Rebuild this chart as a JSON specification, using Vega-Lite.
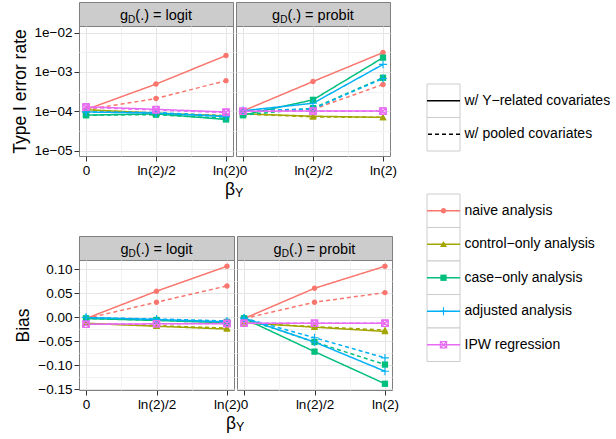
{
  "$schema": "https://vega.github.io/schema/vega-lite/v6.json",
  "padding": {"left": 10, "top": 1, "right": 0, "bottom": 0},
  "config": {
    "font": "Liberation Sans",
    "view": {"stroke": "#7F7F7F", "strokeWidth": 1},
    "axis": {
      "domain": false, "tickColor": "#333333", "tickSize": 5, "tickWidth": 1,
      "labelColor": "#000000", "labelFontSize": 13.5, "labelPadding": 2,
      "titleColor": "#000000", "titleFontSize": 17.5, "titleFontWeight": "normal",
      "gridWidth": 1
    }
  },
  "datasets": {
    "results": [
      {"m":"type1","l":"logit","a":"naive","c":"Y","b":0,"v":0.00011},
      {"m":"type1","l":"logit","a":"naive","c":"Y","b":0.346574,"v":0.00049},
      {"m":"type1","l":"logit","a":"naive","c":"Y","b":0.693147,"v":0.0026},
      {"m":"type1","l":"logit","a":"naive","c":"pooled","b":0,"v":0.00011},
      {"m":"type1","l":"logit","a":"naive","c":"pooled","b":0.346574,"v":0.00021},
      {"m":"type1","l":"logit","a":"naive","c":"pooled","b":0.693147,"v":0.0006},
      {"m":"type1","l":"logit","a":"control","c":"Y","b":0,"v":0.00011},
      {"m":"type1","l":"logit","a":"control","c":"Y","b":0.346574,"v":0.00009},
      {"m":"type1","l":"logit","a":"control","c":"Y","b":0.693147,"v":0.000076},
      {"m":"type1","l":"logit","a":"control","c":"pooled","b":0,"v":0.000108},
      {"m":"type1","l":"logit","a":"control","c":"pooled","b":0.346574,"v":0.000088},
      {"m":"type1","l":"logit","a":"control","c":"pooled","b":0.693147,"v":0.000078},
      {"m":"type1","l":"logit","a":"case","c":"Y","b":0,"v":0.00008},
      {"m":"type1","l":"logit","a":"case","c":"Y","b":0.346574,"v":0.000086},
      {"m":"type1","l":"logit","a":"case","c":"Y","b":0.693147,"v":0.000062},
      {"m":"type1","l":"logit","a":"case","c":"pooled","b":0,"v":0.00008},
      {"m":"type1","l":"logit","a":"case","c":"pooled","b":0.346574,"v":0.000082},
      {"m":"type1","l":"logit","a":"case","c":"pooled","b":0.693147,"v":0.000066},
      {"m":"type1","l":"logit","a":"adjusted","c":"Y","b":0,"v":0.000096},
      {"m":"type1","l":"logit","a":"adjusted","c":"Y","b":0.346574,"v":0.00009},
      {"m":"type1","l":"logit","a":"adjusted","c":"Y","b":0.693147,"v":0.000073},
      {"m":"type1","l":"logit","a":"adjusted","c":"pooled","b":0,"v":0.000096},
      {"m":"type1","l":"logit","a":"adjusted","c":"pooled","b":0.346574,"v":0.000093},
      {"m":"type1","l":"logit","a":"adjusted","c":"pooled","b":0.693147,"v":0.000076},
      {"m":"type1","l":"logit","a":"IPW","c":"Y","b":0,"v":0.00013},
      {"m":"type1","l":"logit","a":"IPW","c":"Y","b":0.346574,"v":0.000112},
      {"m":"type1","l":"logit","a":"IPW","c":"Y","b":0.693147,"v":0.000096},
      {"m":"type1","l":"logit","a":"IPW","c":"pooled","b":0,"v":0.000126},
      {"m":"type1","l":"logit","a":"IPW","c":"pooled","b":0.346574,"v":0.000108},
      {"m":"type1","l":"logit","a":"IPW","c":"pooled","b":0.693147,"v":0.000093},
      {"m":"type1","l":"probit","a":"naive","c":"Y","b":0,"v":0.000102},
      {"m":"type1","l":"probit","a":"naive","c":"Y","b":0.346574,"v":0.00057},
      {"m":"type1","l":"probit","a":"naive","c":"Y","b":0.693147,"v":0.0031},
      {"m":"type1","l":"probit","a":"naive","c":"pooled","b":0,"v":0.000102},
      {"m":"type1","l":"probit","a":"naive","c":"pooled","b":0.346574,"v":0.000112},
      {"m":"type1","l":"probit","a":"naive","c":"pooled","b":0.693147,"v":0.00048},
      {"m":"type1","l":"probit","a":"control","c":"Y","b":0,"v":0.000086},
      {"m":"type1","l":"probit","a":"control","c":"Y","b":0.346574,"v":0.000075},
      {"m":"type1","l":"probit","a":"control","c":"Y","b":0.693147,"v":0.00007},
      {"m":"type1","l":"probit","a":"control","c":"pooled","b":0,"v":0.000086},
      {"m":"type1","l":"probit","a":"control","c":"pooled","b":0.346574,"v":0.000072},
      {"m":"type1","l":"probit","a":"control","c":"pooled","b":0.693147,"v":0.00007},
      {"m":"type1","l":"probit","a":"case","c":"Y","b":0,"v":0.00008},
      {"m":"type1","l":"probit","a":"case","c":"Y","b":0.346574,"v":0.000195},
      {"m":"type1","l":"probit","a":"case","c":"Y","b":0.693147,"v":0.0023},
      {"m":"type1","l":"probit","a":"case","c":"pooled","b":0,"v":0.00008},
      {"m":"type1","l":"probit","a":"case","c":"pooled","b":0.346574,"v":0.00012},
      {"m":"type1","l":"probit","a":"case","c":"pooled","b":0.693147,"v":0.00071},
      {"m":"type1","l":"probit","a":"adjusted","c":"Y","b":0,"v":0.000103},
      {"m":"type1","l":"probit","a":"adjusted","c":"Y","b":0.346574,"v":0.00016},
      {"m":"type1","l":"probit","a":"adjusted","c":"Y","b":0.693147,"v":0.00155},
      {"m":"type1","l":"probit","a":"adjusted","c":"pooled","b":0,"v":0.000103},
      {"m":"type1","l":"probit","a":"adjusted","c":"pooled","b":0.346574,"v":0.000115},
      {"m":"type1","l":"probit","a":"adjusted","c":"pooled","b":0.693147,"v":0.00068},
      {"m":"type1","l":"probit","a":"IPW","c":"Y","b":0,"v":0.0001},
      {"m":"type1","l":"probit","a":"IPW","c":"Y","b":0.346574,"v":0.000102},
      {"m":"type1","l":"probit","a":"IPW","c":"Y","b":0.693147,"v":0.000102},
      {"m":"type1","l":"probit","a":"IPW","c":"pooled","b":0,"v":0.0001},
      {"m":"type1","l":"probit","a":"IPW","c":"pooled","b":0.346574,"v":0.0001},
      {"m":"type1","l":"probit","a":"IPW","c":"pooled","b":0.693147,"v":0.0001},
      {"m":"bias","l":"logit","a":"naive","c":"Y","b":0,"v":-0.003},
      {"m":"bias","l":"logit","a":"naive","c":"Y","b":0.346574,"v":0.054},
      {"m":"bias","l":"logit","a":"naive","c":"Y","b":0.693147,"v":0.106},
      {"m":"bias","l":"logit","a":"naive","c":"pooled","b":0,"v":-0.003},
      {"m":"bias","l":"logit","a":"naive","c":"pooled","b":0.346574,"v":0.031},
      {"m":"bias","l":"logit","a":"naive","c":"pooled","b":0.693147,"v":0.065},
      {"m":"bias","l":"logit","a":"control","c":"Y","b":0,"v":-0.013},
      {"m":"bias","l":"logit","a":"control","c":"Y","b":0.346574,"v":-0.019},
      {"m":"bias","l":"logit","a":"control","c":"Y","b":0.693147,"v":-0.025},
      {"m":"bias","l":"logit","a":"control","c":"pooled","b":0,"v":-0.013},
      {"m":"bias","l":"logit","a":"control","c":"pooled","b":0.346574,"v":-0.018},
      {"m":"bias","l":"logit","a":"control","c":"pooled","b":0.693147,"v":-0.023},
      {"m":"bias","l":"logit","a":"case","c":"Y","b":0,"v":-0.003},
      {"m":"bias","l":"logit","a":"case","c":"Y","b":0.346574,"v":-0.007},
      {"m":"bias","l":"logit","a":"case","c":"Y","b":0.693147,"v":-0.012},
      {"m":"bias","l":"logit","a":"case","c":"pooled","b":0,"v":-0.003},
      {"m":"bias","l":"logit","a":"case","c":"pooled","b":0.346574,"v":-0.006},
      {"m":"bias","l":"logit","a":"case","c":"pooled","b":0.693147,"v":-0.01},
      {"m":"bias","l":"logit","a":"adjusted","c":"Y","b":0,"v":-0.001},
      {"m":"bias","l":"logit","a":"adjusted","c":"Y","b":0.346574,"v":-0.005},
      {"m":"bias","l":"logit","a":"adjusted","c":"Y","b":0.693147,"v":-0.01},
      {"m":"bias","l":"logit","a":"adjusted","c":"pooled","b":0,"v":-0.001},
      {"m":"bias","l":"logit","a":"adjusted","c":"pooled","b":0.346574,"v":-0.004},
      {"m":"bias","l":"logit","a":"adjusted","c":"pooled","b":0.693147,"v":-0.008},
      {"m":"bias","l":"logit","a":"IPW","c":"Y","b":0,"v":-0.015},
      {"m":"bias","l":"logit","a":"IPW","c":"Y","b":0.346574,"v":-0.014},
      {"m":"bias","l":"logit","a":"IPW","c":"Y","b":0.693147,"v":-0.014},
      {"m":"bias","l":"logit","a":"IPW","c":"pooled","b":0,"v":-0.015},
      {"m":"bias","l":"logit","a":"IPW","c":"pooled","b":0.346574,"v":-0.014},
      {"m":"bias","l":"logit","a":"IPW","c":"pooled","b":0.693147,"v":-0.013},
      {"m":"bias","l":"probit","a":"naive","c":"Y","b":0,"v":-0.003},
      {"m":"bias","l":"probit","a":"naive","c":"Y","b":0.346574,"v":0.06},
      {"m":"bias","l":"probit","a":"naive","c":"Y","b":0.693147,"v":0.106},
      {"m":"bias","l":"probit","a":"naive","c":"pooled","b":0,"v":-0.003},
      {"m":"bias","l":"probit","a":"naive","c":"pooled","b":0.346574,"v":0.031},
      {"m":"bias","l":"probit","a":"naive","c":"pooled","b":0.693147,"v":0.051},
      {"m":"bias","l":"probit","a":"control","c":"Y","b":0,"v":-0.012},
      {"m":"bias","l":"probit","a":"control","c":"Y","b":0.346574,"v":-0.021},
      {"m":"bias","l":"probit","a":"control","c":"Y","b":0.693147,"v":-0.03},
      {"m":"bias","l":"probit","a":"control","c":"pooled","b":0,"v":-0.012},
      {"m":"bias","l":"probit","a":"control","c":"pooled","b":0.346574,"v":-0.02},
      {"m":"bias","l":"probit","a":"control","c":"pooled","b":0.693147,"v":-0.027},
      {"m":"bias","l":"probit","a":"case","c":"Y","b":0,"v":-0.003},
      {"m":"bias","l":"probit","a":"case","c":"Y","b":0.346574,"v":-0.072},
      {"m":"bias","l":"probit","a":"case","c":"Y","b":0.693147,"v":-0.139},
      {"m":"bias","l":"probit","a":"case","c":"pooled","b":0,"v":-0.003},
      {"m":"bias","l":"probit","a":"case","c":"pooled","b":0.346574,"v":-0.052},
      {"m":"bias","l":"probit","a":"case","c":"pooled","b":0.693147,"v":-0.099},
      {"m":"bias","l":"probit","a":"adjusted","c":"Y","b":0,"v":-0.002},
      {"m":"bias","l":"probit","a":"adjusted","c":"Y","b":0.346574,"v":-0.052},
      {"m":"bias","l":"probit","a":"adjusted","c":"Y","b":0.693147,"v":-0.113},
      {"m":"bias","l":"probit","a":"adjusted","c":"pooled","b":0,"v":-0.002},
      {"m":"bias","l":"probit","a":"adjusted","c":"pooled","b":0.346574,"v":-0.043},
      {"m":"bias","l":"probit","a":"adjusted","c":"pooled","b":0.693147,"v":-0.085},
      {"m":"bias","l":"probit","a":"IPW","c":"Y","b":0,"v":-0.013},
      {"m":"bias","l":"probit","a":"IPW","c":"Y","b":0.346574,"v":-0.013},
      {"m":"bias","l":"probit","a":"IPW","c":"Y","b":0.693147,"v":-0.013},
      {"m":"bias","l":"probit","a":"IPW","c":"pooled","b":0,"v":-0.013},
      {"m":"bias","l":"probit","a":"IPW","c":"pooled","b":0.346574,"v":-0.013},
      {"m":"bias","l":"probit","a":"IPW","c":"pooled","b":0.693147,"v":-0.013}
    ]
  },
  "hconcat": [
    {
      "spacing": 36,
      "vconcat": [
        {
          "columns": 2, "spacing": {"row": 0, "column": 3}, "align": "each", "bounds": "flush",
          "concat": [
            {
              "width": 154, "height": 24,
              "view": {"fill": "#CCCCCC", "stroke": "#7F7F7F"},
              "data": {"values": [{"rest": "(.) = logit"}]},
              "layer": [
                {"mark": {"type": "text", "text": "g", "align": "left", "baseline": "alphabetic", "fontSize": 14.5, "dx": -36, "dy": 6, "color": "#000000"}, "encoding": {}},
                {"mark": {"type": "text", "text": "D", "align": "left", "baseline": "alphabetic", "fontSize": 10, "dx": -27.9, "dy": 8.5, "color": "#000000"}, "encoding": {}},
                {"mark": {"type": "text", "align": "left", "baseline": "alphabetic", "fontSize": 14.5, "dx": -20.7, "dy": 6, "color": "#000000"}, "encoding": {"text": {"field": "rest"}}}
              ]
            },
            {
              "width": 154, "height": 24,
              "view": {"fill": "#CCCCCC", "stroke": "#7F7F7F"},
              "data": {"values": [{"rest": "(.) = probit"}]},
              "layer": [
                {"mark": {"type": "text", "text": "g", "align": "left", "baseline": "alphabetic", "fontSize": 14.5, "dx": -40.9, "dy": 6, "color": "#000000"}, "encoding": {}},
                {"mark": {"type": "text", "text": "D", "align": "left", "baseline": "alphabetic", "fontSize": 10, "dx": -32.8, "dy": 8.5, "color": "#000000"}, "encoding": {}},
                {"mark": {"type": "text", "align": "left", "baseline": "alphabetic", "fontSize": 14.5, "dx": -25.6, "dy": 6, "color": "#000000"}, "encoding": {"text": {"field": "rest"}}}
              ]
            },
            {
              "width": 154, "height": 130,
              "data": {"name": "results"},
              "transform": [{"filter": "datum.m === 'type1' && datum.l === 'logit'"}],
              "encoding": {
                "x": {"field": "b", "type": "quantitative", "scale": {"domain": [-0.034657, 0.727804], "nice": false, "zero": false},
                  "axis": {"values": [0, 0.173287, 0.346574, 0.51986, 0.693147], "labelExpr": "datum.value === 0 ? '0' : datum.value === 0.346574 ? 'ln(2)/2' : datum.value === 0.693147 ? 'ln(2)' : ''", "labelFlush": false, "labelOverlap": false,
                    "tickOpacity": {"condition": {"test": "datum.value === 0.173287 || datum.value === 0.51986", "value": 0}, "value": 1},
                    "gridColor": {"condition": {"test": "datum.value === 0.173287 || datum.value === 0.51986", "value": "#F2F2F2"}, "value": "#E5E5E5"},
                    "title": "β", "titleX": 155.5, "titleY": 38, "titleAlign": "right", "titleBaseline": "alphabetic"}},
                "y": {"field": "v", "type": "quantitative", "scale": {"type": "log", "domain": [0.000007328, 0.014622], "nice": false},
                  "axis": {"values": [0.00001, 0.0000316228, 0.0001, 0.000316228, 0.001, 0.00316228, 0.01], "labelExpr": "datum.value === 0.01 ? '1e−02' : datum.value === 0.001 ? '1e−03' : datum.value === 0.0001 ? '1e−04' : datum.value === 0.00001 ? '1e−05' : ''", "labelOverlap": false,
                    "tickOpacity": {"condition": {"test": "datum.value === 0.0000316228 || datum.value === 0.000316228 || datum.value === 0.00316228", "value": 0}, "value": 1},
                    "gridColor": {"condition": {"test": "datum.value === 0.0000316228 || datum.value === 0.000316228 || datum.value === 0.00316228", "value": "#F2F2F2"}, "value": "#E5E5E5"},
                    "title": "Type I error rate", "titlePadding": 5}},
                "color": {"field": "a", "type": "nominal", "legend": null, "scale": {"domain": ["naive", "control", "case", "adjusted", "IPW"], "range": ["#F8766D", "#A3A500", "#00BF7D", "#00B0F6", "#E76BF3"]}}
              },
              "layer": [
                {"mark": {"type": "line", "strokeWidth": 1.5}, "encoding": {"strokeDash": {"field": "c", "type": "nominal", "legend": null, "scale": {"domain": ["Y", "pooled"], "range": [[1, 0], [4, 3]]}}}},
                {"transform": [{"filter": "datum.a === 'naive' || datum.a === 'control' || datum.a === 'case'"}], "mark": {"type": "point", "filled": true, "size": 30, "opacity": 1},
                  "encoding": {"shape": {"field": "a", "type": "nominal", "legend": null, "scale": {"domain": ["naive", "control", "case", "adjusted", "IPW"], "range": ["M-1,0A1,1,0,1,1,1,0A1,1,0,1,1,-1,0Z", "M0,-1.2L1.3,1L-1.3,1Z", "M-1.15,-1.15H1.15V1.15H-1.15Z", "M-1.45,0H1.45M0,-1.45V1.45", "M-1.15,-1.15H1.15V1.15H-1.15ZM-1.15,-1.15L1.15,1.15M-1.15,1.15L1.15,-1.15"]}}}},
                {"transform": [{"filter": "datum.a === 'adjusted' || datum.a === 'IPW'"}], "mark": {"type": "point", "filled": false, "size": 30, "opacity": 1, "strokeWidth": 1.1},
                  "encoding": {"shape": {"field": "a", "type": "nominal", "legend": null, "scale": {"domain": ["naive", "control", "case", "adjusted", "IPW"], "range": ["M-1,0A1,1,0,1,1,1,0A1,1,0,1,1,-1,0Z", "M0,-1.2L1.3,1L-1.3,1Z", "M-1.15,-1.15H1.15V1.15H-1.15Z", "M-1.45,0H1.45M0,-1.45V1.45", "M-1.15,-1.15H1.15V1.15H-1.15ZM-1.15,-1.15L1.15,1.15M-1.15,1.15L1.15,-1.15"]}}}}
              ]
            },
            {
              "width": 154, "height": 130,
              "data": {"name": "results"},
              "transform": [{"filter": "datum.m === 'type1' && datum.l === 'probit'"}],
              "encoding": {
                "x": {"field": "b", "type": "quantitative", "scale": {"domain": [-0.034657, 0.727804], "nice": false, "zero": false},
                  "axis": {"values": [0, 0.173287, 0.346574, 0.51986, 0.693147], "labelExpr": "datum.value === 0 ? '0' : datum.value === 0.346574 ? 'ln(2)/2' : datum.value === 0.693147 ? 'ln(2)' : ''", "labelFlush": false, "labelOverlap": false,
                    "tickOpacity": {"condition": {"test": "datum.value === 0.173287 || datum.value === 0.51986", "value": 0}, "value": 1},
                    "gridColor": {"condition": {"test": "datum.value === 0.173287 || datum.value === 0.51986", "value": "#F2F2F2"}, "value": "#E5E5E5"},
                    "title": "Y", "titleFontSize": 12.5, "titleX": -1.5, "titleY": 40, "titleAlign": "left", "titleBaseline": "alphabetic"}},
                "y": {"field": "v", "type": "quantitative", "scale": {"type": "log", "domain": [0.000007328, 0.014622], "nice": false},
                  "axis": {"values": [0.00001, 0.0000316228, 0.0001, 0.000316228, 0.001, 0.00316228, 0.01], "labels": false, "ticks": false, "title": null,
                    "gridColor": {"condition": {"test": "datum.value === 0.0000316228 || datum.value === 0.000316228 || datum.value === 0.00316228", "value": "#F2F2F2"}, "value": "#E5E5E5"}}},
                "color": {"field": "a", "type": "nominal", "legend": null, "scale": {"domain": ["naive", "control", "case", "adjusted", "IPW"], "range": ["#F8766D", "#A3A500", "#00BF7D", "#00B0F6", "#E76BF3"]}}
              },
              "layer": [
                {"mark": {"type": "line", "strokeWidth": 1.5}, "encoding": {"strokeDash": {"field": "c", "type": "nominal", "legend": null, "scale": {"domain": ["Y", "pooled"], "range": [[1, 0], [4, 3]]}}}},
                {"transform": [{"filter": "datum.a === 'naive' || datum.a === 'control' || datum.a === 'case'"}], "mark": {"type": "point", "filled": true, "size": 30, "opacity": 1},
                  "encoding": {"shape": {"field": "a", "type": "nominal", "legend": null, "scale": {"domain": ["naive", "control", "case", "adjusted", "IPW"], "range": ["M-1,0A1,1,0,1,1,1,0A1,1,0,1,1,-1,0Z", "M0,-1.2L1.3,1L-1.3,1Z", "M-1.15,-1.15H1.15V1.15H-1.15Z", "M-1.45,0H1.45M0,-1.45V1.45", "M-1.15,-1.15H1.15V1.15H-1.15ZM-1.15,-1.15L1.15,1.15M-1.15,1.15L1.15,-1.15"]}}}},
                {"transform": [{"filter": "datum.a === 'adjusted' || datum.a === 'IPW'"}], "mark": {"type": "point", "filled": false, "size": 30, "opacity": 1, "strokeWidth": 1.1},
                  "encoding": {"shape": {"field": "a", "type": "nominal", "legend": null, "scale": {"domain": ["naive", "control", "case", "adjusted", "IPW"], "range": ["M-1,0A1,1,0,1,1,1,0A1,1,0,1,1,-1,0Z", "M0,-1.2L1.3,1L-1.3,1Z", "M-1.15,-1.15H1.15V1.15H-1.15Z", "M-1.45,0H1.45M0,-1.45V1.45", "M-1.15,-1.15H1.15V1.15H-1.15ZM-1.15,-1.15L1.15,1.15M-1.15,1.15L1.15,-1.15"]}}}}
              ]
            }
          ]
        },
        {
          "columns": 2, "spacing": {"row": 0, "column": 3}, "align": "each", "bounds": "flush",
          "concat": [
            {
              "width": 155, "height": 24,
              "view": {"fill": "#CCCCCC", "stroke": "#7F7F7F"},
              "data": {"values": [{"rest": "(.) = logit"}]},
              "layer": [
                {"mark": {"type": "text", "text": "g", "align": "left", "baseline": "alphabetic", "fontSize": 14.5, "dx": -36, "dy": 6, "color": "#000000"}, "encoding": {}},
                {"mark": {"type": "text", "text": "D", "align": "left", "baseline": "alphabetic", "fontSize": 10, "dx": -27.9, "dy": 8.5, "color": "#000000"}, "encoding": {}},
                {"mark": {"type": "text", "align": "left", "baseline": "alphabetic", "fontSize": 14.5, "dx": -20.7, "dy": 6, "color": "#000000"}, "encoding": {"text": {"field": "rest"}}}
              ]
            },
            {
              "width": 155, "height": 24,
              "view": {"fill": "#CCCCCC", "stroke": "#7F7F7F"},
              "data": {"values": [{"rest": "(.) = probit"}]},
              "layer": [
                {"mark": {"type": "text", "text": "g", "align": "left", "baseline": "alphabetic", "fontSize": 14.5, "dx": -40.9, "dy": 6, "color": "#000000"}, "encoding": {}},
                {"mark": {"type": "text", "text": "D", "align": "left", "baseline": "alphabetic", "fontSize": 10, "dx": -32.8, "dy": 8.5, "color": "#000000"}, "encoding": {}},
                {"mark": {"type": "text", "align": "left", "baseline": "alphabetic", "fontSize": 14.5, "dx": -25.6, "dy": 6, "color": "#000000"}, "encoding": {"text": {"field": "rest"}}}
              ]
            },
            {
              "width": 155, "height": 130,
              "data": {"name": "results"},
              "transform": [{"filter": "datum.m === 'bias' && datum.l === 'logit'"}],
              "encoding": {
                "x": {"field": "b", "type": "quantitative", "scale": {"domain": [-0.034657, 0.727804], "nice": false, "zero": false},
                  "axis": {"values": [0, 0.173287, 0.346574, 0.51986, 0.693147], "labelExpr": "datum.value === 0 ? '0' : datum.value === 0.346574 ? 'ln(2)/2' : datum.value === 0.693147 ? 'ln(2)' : ''", "labelFlush": false, "labelOverlap": false,
                    "tickOpacity": {"condition": {"test": "datum.value === 0.173287 || datum.value === 0.51986", "value": 0}, "value": 1},
                    "gridColor": {"condition": {"test": "datum.value === 0.173287 || datum.value === 0.51986", "value": "#F2F2F2"}, "value": "#E5E5E5"},
                    "title": "β", "titleX": 156.5, "titleY": 38, "titleAlign": "right", "titleBaseline": "alphabetic"}},
                "y": {"field": "v", "type": "quantitative", "scale": {"domain": [-0.152, 0.119], "nice": false, "zero": false},
                  "axis": {"values": [-0.15, -0.125, -0.1, -0.075, -0.05, -0.025, 0, 0.025, 0.05, 0.075, 0.1], "format": ".2f", "labelExpr": "abs(round(datum.value * 20) - datum.value * 20) < 0.001 ? datum.label : ''", "labelOverlap": false,
                    "tickOpacity": {"condition": {"test": "abs(round(datum.value * 20) - datum.value * 20) > 0.1", "value": 0}, "value": 1},
                    "gridColor": {"condition": {"test": "abs(round(datum.value * 20) - datum.value * 20) > 0.1", "value": "#F2F2F2"}, "value": "#E5E5E5"},
                    "title": "Bias", "titlePadding": 5}},
                "color": {"field": "a", "type": "nominal", "legend": null, "scale": {"domain": ["naive", "control", "case", "adjusted", "IPW"], "range": ["#F8766D", "#A3A500", "#00BF7D", "#00B0F6", "#E76BF3"]}}
              },
              "layer": [
                {"mark": {"type": "line", "strokeWidth": 1.5}, "encoding": {"strokeDash": {"field": "c", "type": "nominal", "legend": null, "scale": {"domain": ["Y", "pooled"], "range": [[1, 0], [4, 3]]}}}},
                {"transform": [{"filter": "datum.a === 'naive' || datum.a === 'control' || datum.a === 'case'"}], "mark": {"type": "point", "filled": true, "size": 30, "opacity": 1},
                  "encoding": {"shape": {"field": "a", "type": "nominal", "legend": null, "scale": {"domain": ["naive", "control", "case", "adjusted", "IPW"], "range": ["M-1,0A1,1,0,1,1,1,0A1,1,0,1,1,-1,0Z", "M0,-1.2L1.3,1L-1.3,1Z", "M-1.15,-1.15H1.15V1.15H-1.15Z", "M-1.45,0H1.45M0,-1.45V1.45", "M-1.15,-1.15H1.15V1.15H-1.15ZM-1.15,-1.15L1.15,1.15M-1.15,1.15L1.15,-1.15"]}}}},
                {"transform": [{"filter": "datum.a === 'adjusted' || datum.a === 'IPW'"}], "mark": {"type": "point", "filled": false, "size": 30, "opacity": 1, "strokeWidth": 1.1},
                  "encoding": {"shape": {"field": "a", "type": "nominal", "legend": null, "scale": {"domain": ["naive", "control", "case", "adjusted", "IPW"], "range": ["M-1,0A1,1,0,1,1,1,0A1,1,0,1,1,-1,0Z", "M0,-1.2L1.3,1L-1.3,1Z", "M-1.15,-1.15H1.15V1.15H-1.15Z", "M-1.45,0H1.45M0,-1.45V1.45", "M-1.15,-1.15H1.15V1.15H-1.15ZM-1.15,-1.15L1.15,1.15M-1.15,1.15L1.15,-1.15"]}}}}
              ]
            },
            {
              "width": 155, "height": 130,
              "data": {"name": "results"},
              "transform": [{"filter": "datum.m === 'bias' && datum.l === 'probit'"}],
              "encoding": {
                "x": {"field": "b", "type": "quantitative", "scale": {"domain": [-0.034657, 0.727804], "nice": false, "zero": false},
                  "axis": {"values": [0, 0.173287, 0.346574, 0.51986, 0.693147], "labelExpr": "datum.value === 0 ? '0' : datum.value === 0.346574 ? 'ln(2)/2' : datum.value === 0.693147 ? 'ln(2)' : ''", "labelFlush": false, "labelOverlap": false,
                    "tickOpacity": {"condition": {"test": "datum.value === 0.173287 || datum.value === 0.51986", "value": 0}, "value": 1},
                    "gridColor": {"condition": {"test": "datum.value === 0.173287 || datum.value === 0.51986", "value": "#F2F2F2"}, "value": "#E5E5E5"},
                    "title": "Y", "titleFontSize": 12.5, "titleX": -1.5, "titleY": 40, "titleAlign": "left", "titleBaseline": "alphabetic"}},
                "y": {"field": "v", "type": "quantitative", "scale": {"domain": [-0.152, 0.119], "nice": false, "zero": false},
                  "axis": {"values": [-0.15, -0.125, -0.1, -0.075, -0.05, -0.025, 0, 0.025, 0.05, 0.075, 0.1], "labels": false, "ticks": false, "title": null,
                    "gridColor": {"condition": {"test": "abs(round(datum.value * 20) - datum.value * 20) > 0.1", "value": "#F2F2F2"}, "value": "#E5E5E5"}}},
                "color": {"field": "a", "type": "nominal", "legend": null, "scale": {"domain": ["naive", "control", "case", "adjusted", "IPW"], "range": ["#F8766D", "#A3A500", "#00BF7D", "#00B0F6", "#E76BF3"]}}
              },
              "layer": [
                {"mark": {"type": "line", "strokeWidth": 1.5}, "encoding": {"strokeDash": {"field": "c", "type": "nominal", "legend": null, "scale": {"domain": ["Y", "pooled"], "range": [[1, 0], [4, 3]]}}}},
                {"transform": [{"filter": "datum.a === 'naive' || datum.a === 'control' || datum.a === 'case'"}], "mark": {"type": "point", "filled": true, "size": 30, "opacity": 1},
                  "encoding": {"shape": {"field": "a", "type": "nominal", "legend": null, "scale": {"domain": ["naive", "control", "case", "adjusted", "IPW"], "range": ["M-1,0A1,1,0,1,1,1,0A1,1,0,1,1,-1,0Z", "M0,-1.2L1.3,1L-1.3,1Z", "M-1.15,-1.15H1.15V1.15H-1.15Z", "M-1.45,0H1.45M0,-1.45V1.45", "M-1.15,-1.15H1.15V1.15H-1.15ZM-1.15,-1.15L1.15,1.15M-1.15,1.15L1.15,-1.15"]}}}},
                {"transform": [{"filter": "datum.a === 'adjusted' || datum.a === 'IPW'"}], "mark": {"type": "point", "filled": false, "size": 30, "opacity": 1, "strokeWidth": 1.1},
                  "encoding": {"shape": {"field": "a", "type": "nominal", "legend": null, "scale": {"domain": ["naive", "control", "case", "adjusted", "IPW"], "range": ["M-1,0A1,1,0,1,1,1,0A1,1,0,1,1,-1,0Z", "M0,-1.2L1.3,1L-1.3,1Z", "M-1.15,-1.15H1.15V1.15H-1.15Z", "M-1.45,0H1.45M0,-1.45V1.45", "M-1.15,-1.15H1.15V1.15H-1.15ZM-1.15,-1.15L1.15,1.15M-1.15,1.15L1.15,-1.15"]}}}}
              ]
            }
          ]
        }
      ]
    },
    {
      "spacing": 41,
      "vconcat": [
        {
          "width": 33, "height": 149,
          "view": {"stroke": null},
          "data": {"name": "results"},
          "transform": [{"aggregate": [{"op": "count", "as": "n"}], "groupby": ["c"]}],
          "encoding": {
            "y": {"field": "c", "type": "nominal", "sort": ["Y", "pooled"], "scale": {"type": "band", "paddingInner": 0, "paddingOuter": 0, "range": [82, 149]},
              "axis": {"orient": "right", "title": null, "domain": false, "ticks": false, "grid": false, "labelFontSize": 14, "labelPadding": 4,
                "labelExpr": "datum.value === 'Y' ? 'w/ Y−related covariates' : 'w/ pooled covariates'"}}
          },
          "layer": [
            {"mark": {"type": "rect", "fill": "#FFFFFF", "stroke": "#CCCCCC", "strokeWidth": 1}},
            {"mark": {"type": "rule", "color": "#000000", "strokeWidth": 1.5}, "encoding": {"strokeDash": {"field": "c", "type": "nominal", "legend": null, "scale": {"domain": ["Y", "pooled"], "range": [[1, 0], [4, 3]]}}}}
          ]
        },
        {
          "width": 33, "height": 167.5,
          "view": {"stroke": null},
          "data": {"name": "results"},
          "transform": [{"aggregate": [{"op": "count", "as": "n"}], "groupby": ["a"]}],
          "encoding": {
            "y": {"field": "a", "type": "nominal", "sort": ["naive", "control", "case", "adjusted", "IPW"], "scale": {"type": "band", "paddingInner": 0, "paddingOuter": 0},
              "axis": {"orient": "right", "title": null, "domain": false, "ticks": false, "grid": false, "labelFontSize": 14, "labelPadding": 4,
                "labelExpr": "datum.value === 'naive' ? 'naive analysis' : datum.value === 'control' ? 'control−only analysis' : datum.value === 'case' ? 'case−only analysis' : datum.value === 'adjusted' ? 'adjusted analysis' : 'IPW regression'"}}
          },
          "layer": [
            {"mark": {"type": "rect", "fill": "#FFFFFF", "stroke": "#CCCCCC", "strokeWidth": 1}},
            {"mark": {"type": "rule", "strokeWidth": 1.5}, "encoding": {"color": {"field": "a", "type": "nominal", "legend": null, "scale": {"domain": ["naive", "control", "case", "adjusted", "IPW"], "range": ["#F8766D", "#A3A500", "#00BF7D", "#00B0F6", "#E76BF3"]}}}},
            {"transform": [{"filter": "datum.a === 'naive' || datum.a === 'control' || datum.a === 'case'"}], "mark": {"type": "point", "filled": true, "size": 30, "opacity": 1},
              "encoding": {
                "color": {"field": "a", "type": "nominal", "legend": null, "scale": {"domain": ["naive", "control", "case", "adjusted", "IPW"], "range": ["#F8766D", "#A3A500", "#00BF7D", "#00B0F6", "#E76BF3"]}},
                "shape": {"field": "a", "type": "nominal", "legend": null, "scale": {"domain": ["naive", "control", "case", "adjusted", "IPW"], "range": ["M-1,0A1,1,0,1,1,1,0A1,1,0,1,1,-1,0Z", "M0,-1.2L1.3,1L-1.3,1Z", "M-1.15,-1.15H1.15V1.15H-1.15Z", "M-1.45,0H1.45M0,-1.45V1.45", "M-1.15,-1.15H1.15V1.15H-1.15ZM-1.15,-1.15L1.15,1.15M-1.15,1.15L1.15,-1.15"]}}}},
            {"transform": [{"filter": "datum.a === 'adjusted' || datum.a === 'IPW'"}], "mark": {"type": "point", "filled": false, "size": 30, "opacity": 1, "strokeWidth": 1.1},
              "encoding": {
                "color": {"field": "a", "type": "nominal", "legend": null, "scale": {"domain": ["naive", "control", "case", "adjusted", "IPW"], "range": ["#F8766D", "#A3A500", "#00BF7D", "#00B0F6", "#E76BF3"]}},
                "shape": {"field": "a", "type": "nominal", "legend": null, "scale": {"domain": ["naive", "control", "case", "adjusted", "IPW"], "range": ["M-1,0A1,1,0,1,1,1,0A1,1,0,1,1,-1,0Z", "M0,-1.2L1.3,1L-1.3,1Z", "M-1.15,-1.15H1.15V1.15H-1.15Z", "M-1.45,0H1.45M0,-1.45V1.45", "M-1.15,-1.15H1.15V1.15H-1.15ZM-1.15,-1.15L1.15,1.15M-1.15,1.15L1.15,-1.15"]}}}}
          ]
        }
      ]
    }
  ],
  "spacing": 27
}
